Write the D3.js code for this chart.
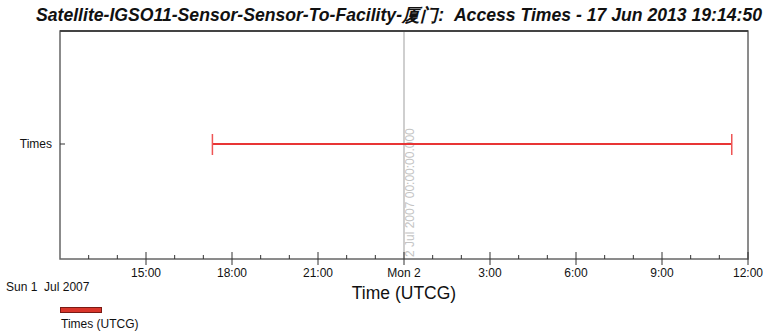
<!DOCTYPE html>
<html>
<head>
<meta charset="utf-8">
<script src="https://cdn.jsdelivr.net/npm/d3@7"></script>
<style>
  html, body { margin: 0; padding: 0; background: #fff; }
  svg { display: block; }
  text { font-family: "Liberation Sans", Arial, sans-serif; white-space: pre; }
</style>
</head>
<body>
<svg id="chart" width="763" height="332"></svg>
<script>
// Access intervals (UTC)
const categories = ["Times"];
const accessStart = ["2007-07-01T17:19:00Z"];
const accessStop  = ["2007-07-02T11:26:00Z"];
const axisDomain = ["2007-07-01T12:00:00Z", "2007-07-02T12:00:00Z"];
const markerTimes = ["2007-07-02T00:00:00Z"];
const markerLabels = ["2 Jul 2007 00:00:00.000"];
const tickLabels = ["15:00", "18:00", "21:00", "Mon 2", "3:00", "6:00", "9:00", "12:00"];
const titleText = "Satellite-IGSO11-Sensor-Sensor-To-Facility-厦门:  Access Times - 17 Jun 2013 19:14:50";
const startLabel = "Sun 1  Jul 2007";
const axisTitle = "Time (UTCG)";
const legendLabel = "Times (UTCG)";

const svg = d3.select("#chart");
const m = { left: 60, right: 748, top: 31, bottom: 259 };

const x = d3.scaleUtc()
  .domain(axisDomain.map(d => new Date(d)))
  .range([m.left, m.right]);
const y = d3.scaleBand()
  .domain(categories)
  .range([m.top, m.bottom - 3 * 0]);

// Row centre within the plot (single row sits slightly above middle)
const rowY = c => y(c) + y.bandwidth() / 2 - 1;

// Title
svg.append("text")
  .attr("x", 36).attr("y", 21)
  .attr("font-size", 17.5)
  .attr("font-weight", "bold")
  .attr("font-style", "italic")
  .attr("fill", "#111")
  .attr("textLength", 726)
  .attr("lengthAdjust", "spacingAndGlyphs")
  .text(titleText);

// Marker line at day boundary
markerTimes.forEach((t, i) => {
  const mx = x(new Date(t));
  svg.append("line")
    .attr("x1", mx).attr("x2", mx)
    .attr("y1", m.top).attr("y2", m.bottom)
    .attr("stroke", "#cfcfcf").attr("stroke-width", 2);
  svg.append("text")
    .attr("transform", `translate(${mx + 10},${m.bottom - 2}) rotate(-90)`)
    .attr("font-size", 12)
    .attr("fill", "#c4c4c4")
    .text(markerLabels[i]);
});

// Plot frame
svg.append("rect")
  .attr("x", m.left).attr("y", m.top)
  .attr("width", m.right - m.left).attr("height", m.bottom - m.top)
  .attr("fill", "none").attr("stroke", "#666").attr("stroke-width", 1.5);
svg.append("line")
  .attr("x1", m.left).attr("x2", m.right)
  .attr("y1", m.top).attr("y2", m.top)
  .attr("stroke", "#444").attr("stroke-width", 2);

// X axis: hourly minor ticks, 3-hourly major ticks crossing the axis
const hours = x.ticks(d3.utcHour.every(1));
const majors = x.ticks(d3.utcHour.every(3)).filter(d => +d !== +x.domain()[0]);
const ax = svg.append("g");
ax.selectAll("line.minor")
  .data(hours.filter(d => d.getUTCHours() % 3 !== 0))
  .join("line")
  .attr("class", "minor")
  .attr("x1", d => x(d)).attr("x2", d => x(d))
  .attr("y1", m.bottom - 4).attr("y2", m.bottom)
  .attr("stroke", "#333").attr("stroke-width", 1);
ax.selectAll("line.major")
  .data(majors)
  .join("line")
  .attr("class", "major")
  .attr("x1", d => x(d)).attr("x2", d => x(d))
  .attr("y1", m.bottom - 7).attr("y2", m.bottom + 6)
  .attr("stroke", "#333").attr("stroke-width", 1);
ax.selectAll("text.tl")
  .data(majors)
  .join("text")
  .attr("class", "tl")
  .attr("x", d => x(d)).attr("y", m.bottom + 18)
  .attr("text-anchor", "middle")
  .attr("font-size", 12)
  .attr("fill", "#111")
  .text((d, i) => tickLabels[i]);

svg.append("text")
  .attr("x", 6).attr("y", 291)
  .attr("font-size", 12).attr("fill", "#111")
  .text(startLabel);
svg.append("text")
  .attr("x", x(new Date(markerTimes[0]))).attr("y", 299)
  .attr("text-anchor", "middle")
  .attr("font-size", 17.5).attr("fill", "#111")
  .text(axisTitle);

// Y axis categories
categories.forEach(c => {
  const cy = rowY(c);
  svg.append("line")
    .attr("x1", m.left).attr("x2", m.left + 5)
    .attr("y1", cy).attr("y2", cy)
    .attr("stroke", "#333");
  svg.append("text")
    .attr("x", 52).attr("y", cy + 4)
    .attr("text-anchor", "end")
    .attr("font-size", 12).attr("fill", "#111")
    .text(c);
});

// Access intervals
const bars = svg.append("g");
categories.forEach((c, i) => {
  const cy = rowY(c);
  const x0 = x(new Date(accessStart[i])), x1 = x(new Date(accessStop[i]));
  bars.append("line")
    .attr("x1", x0).attr("x2", x1).attr("y1", cy).attr("y2", cy)
    .attr("stroke", "#e83535").attr("stroke-width", 2);
  [x0, x1].forEach(px => {
    bars.append("line")
      .attr("x1", px).attr("x2", px).attr("y1", cy - 10).attr("y2", cy + 11)
      .attr("stroke", "#ee5555").attr("stroke-width", 1.5);
  });
});

// Legend
svg.append("rect")
  .attr("x", 60.5).attr("y", 307.5).attr("width", 41).attr("height", 5)
  .attr("fill", "#d9352a").attr("stroke", "#7a1a14").attr("stroke-width", 1);
svg.append("text")
  .attr("x", 61).attr("y", 328)
  .attr("font-size", 12).attr("fill", "#111")
  .text(legendLabel);
</script>
</body>
</html>
